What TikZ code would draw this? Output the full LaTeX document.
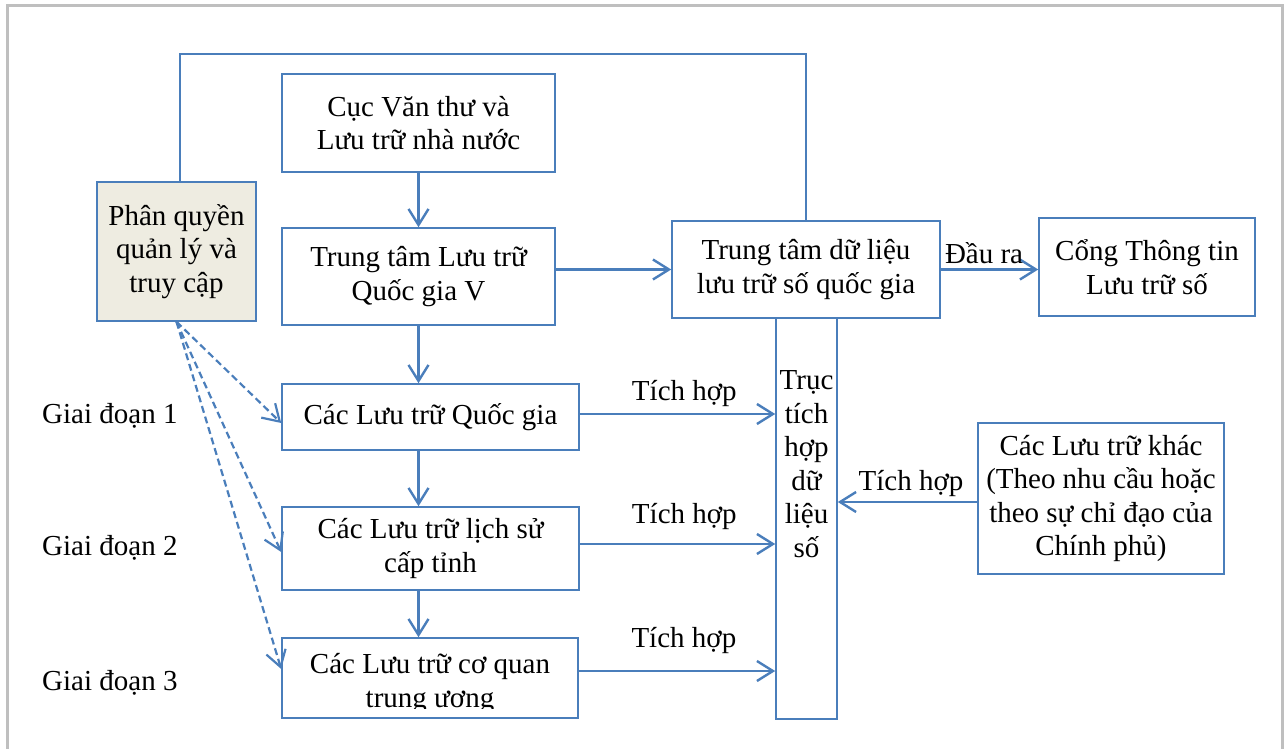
\documentclass[tikz,border=0pt]{standalone}
\usepackage{fontspec}
\setmainfont{Liberation Serif}
\usetikzlibrary{arrows.meta}
\definecolor{lineblue}{HTML}{4A7EBB}
\definecolor{framegray}{HTML}{BFBFBF}
\definecolor{pqfill}{HTML}{EEECE1}
\begin{document}
\begin{tikzpicture}[x=1pt,y=-1pt,
  txt/.style={font=\fontsize{29}{33.5}\selectfont},
  box/.style={txt, draw=lineblue, line width=1.6pt, inner sep=0pt, align=center},
  lbl/.style={txt, inner sep=0pt},
  barb/.style={-{Straight Barb[length=16pt,width=20pt]}},
  arr/.style={draw=lineblue, line width=2.4pt, barb},
  dsh/.style={draw=lineblue, line width=2.2pt, dash pattern=on 7pt off 4pt, barb},
  plain/.style={draw=lineblue, line width=2pt}
]
\useasboundingbox (0,0) rectangle (1288,749);
\fill[white] (0,0) rectangle (1288,749);
\draw[framegray, line width=3pt] (7.5,760) -- (7.5,5.5) -- (1282,5.5) -- (1282,760);

% boxes
\node[box, fill=pqfill, minimum width=159pt, minimum height=139pt] (pq) at (176.5,251.5) {Phân quyền\\quản lý và\\truy cập};
\node[box, minimum width=273pt, minimum height=98pt] (cuc) at (418.5,123) {Cục Văn thư và\\Lưu trữ nhà nước};
\node[box, minimum width=273pt, minimum height=97pt] (ttv) at (418.5,276.5) {Trung tâm Lưu trữ\\Quốc gia V};
\node[box, minimum width=297pt, minimum height=66pt] (lq) at (430.5,417) {Các Lưu trữ Quốc gia};
\node[box, minimum width=297pt, minimum height=83pt] (ls) at (430.5,548.5) {Các Lưu trữ lịch sử\\cấp tỉnh};
\node[box, minimum width=296pt, minimum height=80pt] (cq) at (430,678) {};
\begin{scope}
  \clip (cq.north west) rectangle ([yshift=10pt]cq.south east);
  \node[lbl, align=center, anchor=base] (cqt) at (430,707) {Các Lưu trữ cơ quan\\trung ương};
\end{scope}
\node[box, minimum width=268pt, minimum height=97pt] (ttdl) at (806,269.5) {Trung tâm dữ liệu\\lưu trữ số quốc gia};
\node[box, minimum width=61pt, minimum height=401pt] (truc) at (806.5,518.5) {};
\node[lbl, align=center, anchor=base] (trt) at (806.5,557) {Trục\\tích\\hợp\\dữ\\liệu\\số};
\node[box, minimum width=216pt, minimum height=98pt] (cong) at (1147,267) {Cổng Thông tin\\Lưu trữ số};
\node[box, minimum width=246pt, minimum height=151pt] (khac) at (1101,498.5) {Các Lưu trữ khác\\(Theo nhu cầu hoặc\\theo sự chỉ đạo của\\Chính phủ)};

% stage labels
\node[lbl, anchor=base west] (g1) at (42,423) {Giai đoạn 1};
\node[lbl, anchor=base west] (g2) at (42,555) {Giai đoạn 2};
\node[lbl, anchor=base west] (g3) at (42,690) {Giai đoạn 3};

% top loop
\coordinate (loopA) at (180,54);
\coordinate (loopB) at (806,54);
\draw[plain] (pq.north -| loopA) -- (loopA) -- (loopB) -- (ttdl.north);

% vertical flow
\draw[arr] (cuc.south) -- (ttv.north);
\draw[arr] (ttv.south) -- (ttv.south |- lq.north);
\draw[arr] (lq.south -| ttv.south) -- (ls.north -| ttv.south);
\draw[arr] (ls.south -| ttv.south) -- (cq.north -| ttv.south);

% horizontal
\draw[arr] (ttv.east |- ttdl.west) -- (ttdl.west);
\draw[arr] (ttdl.east) -- (ttdl.east -| cong.west)
  node[lbl, pos=0.444, anchor=base, yshift=6pt] (dr) {Đầu ra};
\draw[arr] ([yshift=3pt]lq.east) -- ([yshift=3pt]lq.east -| truc.west)
  node[lbl, pos=0.535, anchor=base, yshift=14pt] (th1) {Tích hợp};
\draw[arr] ([yshift=4.5pt]ls.east) -- ([yshift=4.5pt]ls.east -| truc.west)
  node[lbl, pos=0.535, anchor=base, yshift=21pt] (th2) {Tích hợp};
\draw[arr] ([yshift=7pt]cq.east) -- ([yshift=7pt]cq.east -| truc.west)
  node[lbl, pos=0.535, anchor=base, yshift=24pt] (th3) {Tích hợp};
\draw[arr] ([yshift=-3.5pt]khac.west) -- ([yshift=-3.5pt]khac.west -| truc.east)
  node[lbl, pos=0.475, anchor=base, yshift=12pt] (th4) {Tích hợp};

% dashed
\draw[dsh] (pq.south) -- ([yshift=-6pt]lq.west);
\draw[dsh] (pq.south) -- ([yshift=-3.5pt]ls.west);
\draw[dsh] (pq.south) -- ([yshift=9pt]cq.west);
\end{tikzpicture}
\end{document}
